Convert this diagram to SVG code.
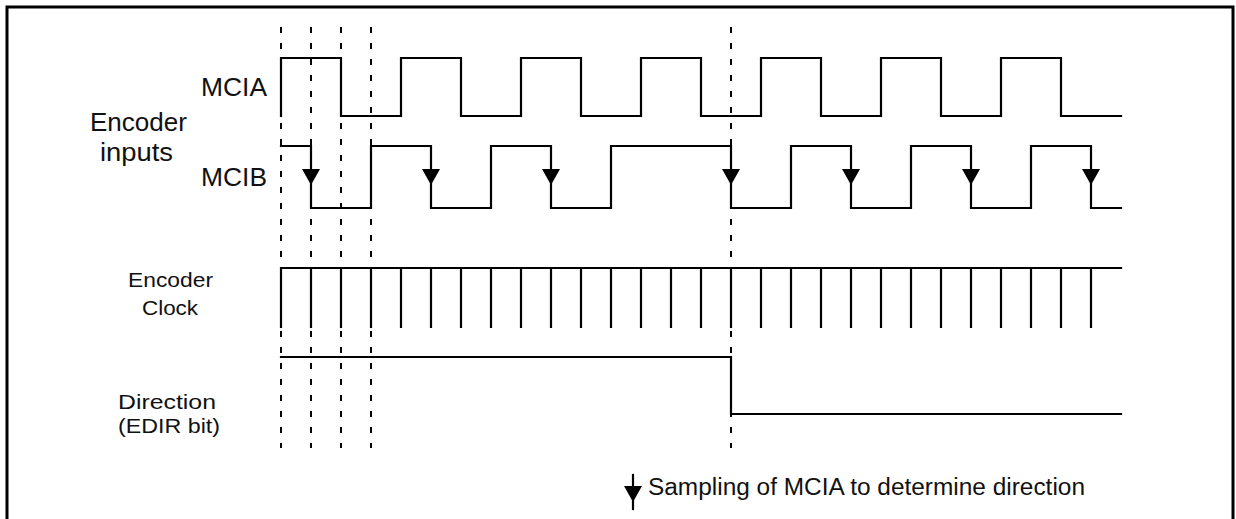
<svg xmlns="http://www.w3.org/2000/svg" width="1236" height="519" viewBox="0 0 1236 519">
<style>
.sig{fill:none;stroke:#000;stroke-width:2.2;stroke-linejoin:miter;stroke-linecap:square}
.dash{fill:none;stroke:#000;stroke-width:2;stroke-dasharray:6 10}
.lbl{font-family:"Liberation Sans",Arial,sans-serif;font-size:25.5px;fill:#111}
.lbs{font-family:"Liberation Sans",Arial,sans-serif;font-size:21px;fill:#111}
.lgd{font-family:"Liberation Sans",Arial,sans-serif;font-size:23px;fill:#111}
.arr{fill:#000}
</style>
<defs>
<polygon id="tri" points="-9,0 9,0 0,16"/>
</defs>
<rect x="7" y="7" width="1226" height="530" fill="none" stroke="#000" stroke-width="3"/>

<g id="guides">
<path class="dash" d="M281,27V448M311,27V448M341,27V448M371,27V448M731,27V448"/>
</g>

<g id="labels">
<text class="lbl" x="267" y="96" text-anchor="end" textLength="66" lengthAdjust="spacingAndGlyphs">MCIA</text>
<text class="lbl" x="138.5" y="131" text-anchor="middle" textLength="97" lengthAdjust="spacingAndGlyphs">Encoder</text>
<text class="lbl" x="136.5" y="161" text-anchor="middle" textLength="73" lengthAdjust="spacingAndGlyphs">inputs</text>
<text class="lbl" x="267" y="186" text-anchor="end" textLength="66" lengthAdjust="spacingAndGlyphs">MCIB</text>
<text class="lbs" x="170.5" y="287" text-anchor="middle" textLength="85" lengthAdjust="spacingAndGlyphs">Encoder</text>
<text class="lbs" x="170" y="315" text-anchor="middle" textLength="56" lengthAdjust="spacingAndGlyphs">Clock</text>
<text class="lbs" x="167" y="409" text-anchor="middle" textLength="98" lengthAdjust="spacingAndGlyphs">Direction</text>
<text class="lbs" x="169" y="433" text-anchor="middle" textLength="102" lengthAdjust="spacingAndGlyphs">(EDIR bit)</text>
</g>

<g id="mcia">
<path class="sig" d="M281,116V58H341V116H401V58H461V116H521V58H581V116H641V58H701V116H761V58H821V116H881V58H941V116H1001V58H1061V116H1121"/>
</g>

<g id="mcib">
<path class="sig" d="M281,146H311V208H371V146H431V208H491V146H551V208H611V146H731V208H791V146H851V208H911V146H971V208H1031V146H1091V208H1121"/>
<use href="#tri" class="arr" x="311" y="169"/>
<use href="#tri" class="arr" x="431" y="169"/>
<use href="#tri" class="arr" x="551" y="169"/>
<use href="#tri" class="arr" x="731" y="169"/>
<use href="#tri" class="arr" x="851" y="169"/>
<use href="#tri" class="arr" x="971" y="169"/>
<use href="#tri" class="arr" x="1091" y="169"/>
</g>

<g id="clock">
<path class="sig" d="M281,268H1121M281,268V327M311,268V327M341,268V327M371,268V327M401,268V327M431,268V327M461,268V327M491,268V327M521,268V327M551,268V327M581,268V327M611,268V327M641,268V327M671,268V327M701,268V327M731,268V327M761,268V327M791,268V327M821,268V327M851,268V327M881,268V327M911,268V327M941,268V327M971,268V327M1001,268V327M1031,268V327M1061,268V327M1091,268V327"/>
</g>

<g id="direction">
<path class="sig" d="M281,357H731V414H1121"/>
</g>

<g id="legend">
<path class="sig" d="M633,475V509"/>
<use href="#tri" class="arr" x="633" y="486"/>
<text class="lgd" x="648" y="495" textLength="437" lengthAdjust="spacingAndGlyphs">Sampling of MCIA to determine direction</text>
</g>
</svg>
